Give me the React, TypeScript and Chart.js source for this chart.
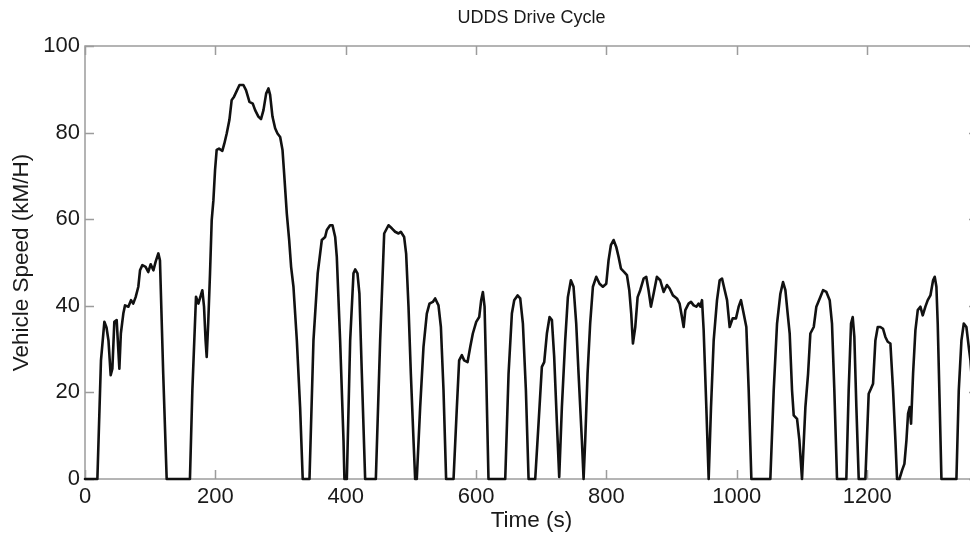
import React, { useEffect, useRef } from "react";
import { Chart, registerables } from "chart.js";

Chart.register(...registerables);

const TITLE = "UDDS Drive Cycle";
const X_LABEL = "Time (s)";
const Y_LABEL = "Vehicle Speed (kM/H)";

const X_TICKS = [0, 200, 400, 600, 800, 1000, 1200];
const Y_TICKS = [0, 20, 40, 60, 80, 100];
const X_MIN = 0;
const X_MAX = 1370;
const Y_MIN = 0;
const Y_MAX = 100;

// time (s)
const TIME_S = [
  0, 19, 24.5, 29.7, 33, 36, 39.4, 42, 45, 48.6, 52.7, 55, 58.8, 61.4, 66.5, 70.6, 74, 77.7, 81.8, 84.4,
  88, 93, 97, 100.8, 104.9, 108.4, 112.5, 115, 120, 125.3, 161, 164.7, 170.3, 174, 180, 182.6, 185, 186.7,
  189, 191.8, 194.4, 197, 199.5, 202, 205.6, 210.7, 213.8, 217.4, 221.5, 225, 228.7, 237, 243, 247, 252.3,
  257.4, 261, 266, 270, 273.8, 277.9, 281.4, 284, 287.6, 291.7, 295.3, 299.4, 303, 305.5, 309.6, 313.2,
  316.2, 319.8, 325, 330, 334, 344.4, 350.5, 357, 363.3, 368.4, 371, 376, 379.7, 383.8, 386.3, 391.4,
  396.6, 398, 401.7, 406.8, 411.9, 414.5, 418, 421, 424.7, 429.8, 446.2, 452.8, 459, 465.6, 470.7, 475.8,
  481, 484.5, 489.6, 492.7, 496.3, 499.9, 504, 506.5, 509, 514.2, 519.3, 524.4, 528.5, 533.6, 537.2, 542.3,
  546, 550, 554, 565.4, 570.5, 574, 578.2, 581.7, 586.9, 591, 595, 600.2, 604.8, 607.8, 610.4, 613, 615.5,
  619, 644.7, 649.8, 654.9, 658.5, 663.6, 667.7, 671.8, 676.4, 680.5, 690.7, 695.8, 700.9, 704.5, 708.6,
  712.7, 716.3, 719.8, 724, 727.5, 731.6, 736.7, 740.8, 745.4, 749.5, 753.6, 757.2, 762.3, 764.9, 767.4,
  771, 775, 779.2, 784.3, 789.4, 794.5, 799.7, 803.2, 806.8, 810.9, 815, 818.6, 822.2, 827.3, 831.4, 835,
  838, 840.6, 844.2, 847.8, 851.8, 857, 861, 864.6, 868.2, 872.3, 877.4, 882.5, 887.7, 892.8, 896.9, 902,
  908.1, 912.2, 915.8, 918.4, 921, 926, 929.7, 933.8, 937.9, 941.4, 944, 946.6, 949.1, 953.2, 956.8, 960.4,
  964.5, 969.6, 973.7, 977.3, 980.8, 985, 989, 993.6, 998.7, 1002.8, 1006.4, 1010.5, 1014.6, 1018.2,
  1022.3, 1051.4, 1056.6, 1061.7, 1066.8, 1070.9, 1074.5, 1078, 1081.1, 1084.7, 1087.3, 1092.4, 1096,
  1100, 1105.2, 1109.3, 1112.8, 1118, 1122, 1127.2, 1132.3, 1137.4, 1142.5, 1146, 1149.6, 1153.7, 1168,
  1171.6, 1175.2, 1177.8, 1180.3, 1183.4, 1187, 1197.2, 1202.3, 1205.9, 1209, 1212.6, 1216.2, 1220.2,
  1224.3, 1227.9, 1231.5, 1235.6, 1239.7, 1243.3, 1245.8, 1249.4, 1253.5, 1257.1, 1260.2, 1262.7, 1265.3,
  1267.3, 1270.4, 1274, 1277.6, 1281.6, 1285.2, 1289.3, 1292.9, 1297, 1301.1, 1303.6, 1306.2, 1308.2,
  1311.3, 1313.9, 1336.9, 1340.5, 1344.6, 1348.2, 1352.2, 1355.8, 1358.4, 1362, 1366, 1369,
];

// vehicle speed (km/h)
const SPEED_KMH = [
  0, 0, 27.4, 36.3, 35, 32, 24, 25.5, 36.3, 36.7, 25.5, 33.6, 38.2, 40.1, 39.8, 41.3, 40.5, 42, 44.4, 48.2,
  49.4, 49, 47.8, 49.6, 48.2, 50.2, 52.1, 50.5, 24.3, 0, 0, 20.5, 42.1, 40.5, 43.6, 39.8, 32, 28.2,
  35.9, 47.5, 59.8, 64.4, 71.3, 76, 76.3, 75.8, 77.5, 79.8, 82.9, 87.5, 88.3, 91, 91, 89.8, 87.1,
  86.7, 85.2, 83.7, 83.1, 85.2, 89, 90.2, 88.7, 83.7, 81, 79.8, 79, 76, 70.6, 61.3, 55.2,
  49, 44.4, 32, 16.6, 0, 0, 32, 47.5, 55.2, 55.9, 57.5, 58.6, 58.6, 55.9, 51.3, 32,
  8.9, 0, 0, 32, 47.5, 48.4, 47.5, 42.8, 24.3, 0, 0, 32, 56.7, 58.6, 57.9, 57.1,
  56.7, 57.1, 55.9, 52, 39.8, 24.3, 8.9, 0, 0, 16.6, 30.5, 38.2, 40.5, 40.9, 41.7, 40.1,
  35.1, 20.5, 0, 0, 16.6, 27.4, 28.6, 27.4, 27, 30.5, 33.6, 36.3, 37.4, 41.3, 43.2, 39.8, 24.3,
  0, 0, 24.3, 38.2, 41.3, 42.4, 41.7, 35.9, 20.5, 0, 0, 12.8, 25.9, 27, 33.6,
  37.4, 36.7, 28.2, 12.8, 0.5, 16.6, 32, 42, 45.9, 44.4, 35.9, 24.3, 8.9, 0, 8.9,
  24.3, 35.9, 44.4, 46.7, 45.1, 44.4, 45.1, 50.5, 54, 55.2, 53.6, 51.3, 48.6, 47.8, 47.1, 43.6,
  38.2, 31.3, 35.1, 42, 43.6, 46.3, 46.7, 43.6, 39.8, 42.8, 46.7, 45.9, 43.2, 44.8, 44, 42.4,
  41.7, 40.5, 37.4, 35.1, 39, 40.5, 40.9, 40.1, 39.8, 40.5, 39.8, 41.3, 34.4, 16.6, 0, 16.6,
  32, 41.3, 45.9, 46.3, 44, 41.3, 35.1, 37.1, 37.1, 39.8, 41.3, 38.2, 35.1, 20.5,
  0, 0, 20.5, 35.9, 42.8, 45.5, 43.6, 38.2, 33.6, 20.5, 14.7, 13.9, 8.9,
  0, 16.6, 24.3, 33.6, 35.1, 39.8, 41.7, 43.6, 43.2, 41.3, 35.9, 20.5, 0, 0,
  20.5, 35.9, 37.4, 32.8, 16.6, 0, 0, 19.7, 20.9, 22, 32, 35.1, 35.1,
  34.7, 32.8, 31.7, 31.3, 20.5, 8.9, 0, 0, 2, 3.5, 8.9, 15.1, 16.6,
  12.8, 24.3, 34.4, 39, 39.8, 37.8, 39.8, 41.3, 42.4, 45.9, 46.7, 44.4, 35.9,
  16.6, 0, 0, 20.5, 32, 35.9, 35.1, 30.5, 27.4, 20, 8, 0,
];

const FONT_FAMILY = '"Liberation Sans", Arial, Helvetica, sans-serif';
const TEXT_COLOR = "#1a1a1a";
const AXIS_COLOR = "#9c9c9c";

const framePlugin = {
  id: "matlabFrame",
  beforeDatasetsDraw(chart: any) {
    const { ctx, chartArea, scales } = chart;
    const { left, right, top, bottom } = chartArea;
    const xs = scales.x;
    const ys = scales.y;
    ctx.save();
    ctx.strokeStyle = AXIS_COLOR;
    ctx.lineWidth = 1.5;
    ctx.strokeRect(left, top, right - left, bottom - top);
    const L = 9;
    ctx.beginPath();
    X_TICKS.forEach((v) => {
      const px = Math.round(xs.getPixelForValue(v)) + 0.5;
      ctx.moveTo(px, bottom);
      ctx.lineTo(px, bottom - L);
      ctx.moveTo(px, top);
      ctx.lineTo(px, top + L);
    });
    Y_TICKS.forEach((v) => {
      const py = Math.round(ys.getPixelForValue(v)) + 0.5;
      ctx.moveTo(left, py);
      ctx.lineTo(left + L, py);
      ctx.moveTo(right, py);
      ctx.lineTo(right - L, py);
    });
    ctx.stroke();
    ctx.fillStyle = TEXT_COLOR;
    ctx.font = `18px ${FONT_FAMILY}`;
    ctx.textAlign = "center";
    ctx.textBaseline = "middle";
    ctx.fillText(TITLE, (left + right) / 2, 18);
    ctx.restore();
  },
};

export default function App() {
  const canvasRef = useRef<HTMLCanvasElement | null>(null);

  useEffect(() => {
    const canvas = canvasRef.current;
    if (!canvas) return;
    const points = TIME_S.map((t, i) => ({ x: t, y: SPEED_KMH[i] }));
    const chart = new Chart(canvas, {
      type: "line",
      data: {
        datasets: [
          {
            data: points,
            borderColor: "#111111",
            borderWidth: 2.6,
            borderJoinStyle: "round",
            borderCapStyle: "round",
            pointRadius: 0,
            tension: 0,
            fill: false,
            clip: false as any,
          },
        ],
      },
      plugins: [framePlugin],
      options: {
        responsive: false,
        animation: false,
        devicePixelRatio: 1,
        layout: { padding: { left: 0, right: 22, top: 46, bottom: 0 } },
        plugins: {
          legend: { display: false },
          tooltip: { enabled: false },
          title: { display: false },
        },
        scales: {
          x: {
            type: "linear",
            min: X_MIN,
            max: X_MAX,
            grid: { display: false, drawTicks: false },
            border: { display: false },
            afterBuildTicks: (scale: any) => {
              scale.ticks = X_TICKS.map((v) => ({ value: v }));
            },
            afterFit: (scale: any) => {
              scale.height = 58;
            },
            ticks: {
              padding: 5,
              color: TEXT_COLOR,
              maxRotation: 0,
              font: { family: FONT_FAMILY, size: 22 },
              callback: (v: any) => String(v),
            },
            title: {
              display: true,
              text: X_LABEL,
              color: TEXT_COLOR,
              font: { family: FONT_FAMILY, size: 22.5 },
              padding: { top: 0, bottom: 3 },
            },
          },
          y: {
            type: "linear",
            min: Y_MIN,
            max: Y_MAX,
            grid: { display: false, drawTicks: false },
            border: { display: false },
            afterBuildTicks: (scale: any) => {
              scale.ticks = Y_TICKS.map((v) => ({ value: v }));
            },
            afterFit: (scale: any) => {
              scale.width = 85;
            },
            ticks: {
              padding: 5,
              color: TEXT_COLOR,
              font: { family: FONT_FAMILY, size: 22 },
              callback: (v: any) => String(v),
            },
            title: {
              display: true,
              text: Y_LABEL,
              color: TEXT_COLOR,
              font: { family: FONT_FAMILY, size: 22.5 },
              padding: { top: 8, bottom: 0 },
            },
          },
        },
      },
    });
    return () => chart.destroy();
  }, []);

  return (
    <div
      style={{
        position: "fixed",
        left: 0,
        top: 0,
        width: 970,
        height: 537,
        overflow: "hidden",
        background: "#ffffff",
      }}
    >
      <canvas ref={canvasRef} width={1000} height={537} style={{ display: "block" }} />
    </div>
  );
}
